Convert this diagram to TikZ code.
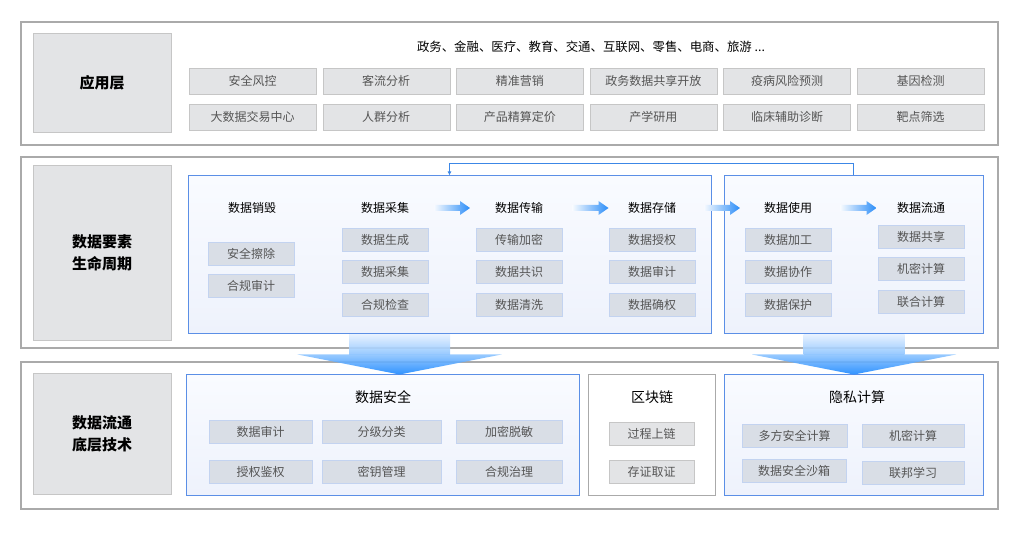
\documentclass[tikz,border=0pt]{standalone}
\usepackage{fontspec}
\setmainfont{Noto Sans CJK SC}
\usetikzlibrary{arrows.meta,calc}

\definecolor{panelgray}{HTML}{AAAAAA}
\definecolor{labelfill}{HTML}{E3E4E6}
\definecolor{labeldraw}{HTML}{C6C6C6}
\definecolor{itemtext}{HTML}{555555}
\definecolor{lineblue}{HTML}{5B8FE6}
\definecolor{fbblue}{HTML}{3C87E6}
\definecolor{lifefill}{HTML}{D9DEE6}
\definecolor{lifedraw}{HTML}{C3D3F0}
\definecolor{stagetop}{HTML}{F9FBFF}
\definecolor{stagebot}{HTML}{EEF2FC}
\definecolor{arrowblue}{HTML}{2B8DF8}
\definecolor{shafttop}{HTML}{E4F0FF}
\definecolor{shaftbot}{HTML}{8CC4FF}
\definecolor{headbot}{HTML}{1A88FF}

\tikzset{
  panel/.style={draw=panelgray, line width=1.5pt, fill=white},
  layerlabel/.style={fill=labelfill, draw=labeldraw, line width=0.8pt,
    font=\fontsize{15}{22}\selectfont\bfseries, align=center,
    minimum width=138pt, inner sep=0pt},
  appitem/.style={fill=labelfill, draw=labeldraw, text=itemtext,
    font=\fontsize{12}{14}\selectfont, minimum width=127pt,
    minimum height=26pt, inner sep=0pt},
  stagebox/.style={draw=lineblue, line width=1pt,
    top color=stagetop, bottom color=stagebot, inner sep=0pt},
  lifeitem/.style={fill=lifefill, draw=lifedraw, text=itemtext,
    font=\fontsize{12}{14}\selectfont, minimum width=86pt,
    minimum height=23pt, inner sep=0pt},
  chainitem/.style={lifeitem, fill=labelfill, draw=labeldraw},
  stagetitle/.style={font=\fontsize{12}{14}\selectfont},
  grouptitle/.style={font=\fontsize{14}{16}\selectfont},
  feedback/.style={draw=fbblue, line width=0.9pt,
    -{Latex[length=4pt,width=4pt]}},
  flow/.pic={
    \shade[left color=arrowblue!4, right color=arrowblue]
      (-18,-3) -- (8,-3) -- (8,-7) -- (18,0) -- (8,7) -- (8,3) -- (-18,3) -- cycle;
  },
  downflow/.pic={
    \shade[top color=shafttop, bottom color=shaftbot, fill opacity=0.9]
      (-50.5,0) rectangle (50.5,20);
    \shade[top color=shaftbot, bottom color=headbot, fill opacity=0.9]
      (-102,20) -- (102,20) -- (0,40) -- cycle;
  }
}

\begin{document}
\begin{tikzpicture}[x=1pt,y=-1pt]
\useasboundingbox (0,0) rectangle (1028,534);

% Application layer
\draw[panel] (21,22) rectangle (998,145);
\node[layerlabel, minimum height=99pt] (yingyong) at (102,82.5) {应用层};
\node[font=\fontsize{12.4}{14}\selectfont] (hangye) at (591,47)
  {政务、金融、医疗、教育、交通、互联网、零售、电商、旅游 ...};
\foreach \txt [count=\i] in {安全风控,客流分析,精准营销,政务数据共享开放,疫病风险预测,基因检测}
  \node[appitem] (appa\i) at ({119+133.6*\i},81) {\txt};
\foreach \txt [count=\i] in {大数据交易中心,人群分析,产品精算定价,产学研用,临床辅助诊断,靶点筛选}
  \node[appitem] (appb\i) at ({119+133.6*\i},117) {\txt};

% Data lifecycle
\draw[panel] (21,157) rectangle (998,348);
\node[layerlabel, minimum height=175pt] (shengming) at (102,252.5) {数据要素\\生命周期};
\node[stagebox, minimum width=523pt, minimum height=158pt] (lifeA) at (449.5,255) {};
\node[stagebox, minimum width=259pt, minimum height=158pt] (lifeB) at (853.5,255) {};

\draw[feedback] (lifeB.north) -- ++(0,-12) -| (lifeA.north);

\node[stagetitle] (xiaohui) at (252,208) {数据销毁};
\node[stagetitle] (caiji) at (385,208) {数据采集};
\node[stagetitle] (chuanshu) at (519,208) {数据传输};
\node[stagetitle] (cunchu) at (652,208) {数据存储};
\node[stagetitle] (shiyong) at (788,208) {数据使用};
\node[stagetitle] (liutong) at (921,208) {数据流通};

\pic at ($(caiji)!0.5!(chuanshu)$) {flow};
\pic at ($(chuanshu)!0.5!(cunchu)+(5,0)$) {flow};
\pic at ($(cunchu)!0.5!(shiyong)+(2,0)$) {flow};
\pic at ($(shiyong)!0.5!(liutong)+(4,0)$) {flow};

\foreach \txt [count=\i] in {安全擦除,合规审计}
  \node[lifeitem] (xiaohui\i) at (251,{221.5+32*\i}) {\txt};
\foreach \txt [count=\i] in {数据生成,数据采集,合规检查}
  \node[lifeitem] (caiji\i) at (385,{207+32.5*\i}) {\txt};
\foreach \txt [count=\i] in {传输加密,数据共识,数据清洗}
  \node[lifeitem] (chuanshu\i) at (519,{207+32.5*\i}) {\txt};
\foreach \txt [count=\i] in {数据授权,数据审计,数据确权}
  \node[lifeitem] (cunchu\i) at (652,{207+32.5*\i}) {\txt};
\foreach \txt [count=\i] in {数据加工,数据协作,数据保护}
  \node[lifeitem] (shiyong\i) at (788,{207+32.5*\i}) {\txt};
\foreach \txt [count=\i] in {数据共享,机密计算,联合计算}
  \node[lifeitem] (liutong\i) at (921,{204+32.5*\i}) {\txt};

% Underlying technology
\draw[panel] (21,362) rectangle (998,509);
\node[layerlabel, minimum height=121pt] (diceng) at (102,433.5) {数据流通\\底层技术};

\node[stagebox, minimum width=393pt, minimum height=120pt] (anquan) at (382.5,435) {};
\node[grouptitle] at (383,397) {数据安全};
\node[lifeitem, minimum width=103pt] (aq1) at (260.5,432) {数据审计};
\node[lifeitem, minimum width=119pt] (aq2) at (381.5,432) {分级分类};
\node[lifeitem, minimum width=106pt] (aq3) at (509,432) {加密脱敏};
\node[lifeitem, minimum width=103pt] (aq4) at (260.5,471.5) {授权鉴权};
\node[lifeitem, minimum width=119pt] (aq5) at (381.5,471.5) {密钥管理};
\node[lifeitem, minimum width=106pt] (aq6) at (509,471.5) {合规治理};

\node[draw=panelgray, line width=1pt, fill=white, minimum width=127pt,
  minimum height=120pt] (qukuai) at (651.5,435) {};
\node[grouptitle] at (652,397) {区块链};
\node[chainitem, minimum width=85pt] (qk1) at (651.5,433.5) {过程上链};
\node[chainitem, minimum width=85pt] (qk2) at (651.5,471.5) {存证取证};

\node[stagebox, minimum width=259pt, minimum height=120pt] (yinsi) at (853.5,435) {};
\node[grouptitle] at (857,397) {隐私计算};
\node[lifeitem, minimum width=105pt] (ys1) at (794.5,435.5) {多方安全计算};
\node[lifeitem, minimum width=102pt] (ys2) at (913,435.5) {机密计算};
\node[lifeitem, minimum width=104pt] (ys3) at (794,470.5) {数据安全沙箱};
\node[lifeitem, minimum width=102pt] (ys4) at (913,472.5) {联邦学习};

% Big arrows between layers
\pic at (399.5,334.5) {downflow};
\pic at (854,334.5) {downflow};

\end{tikzpicture}
\end{document}
